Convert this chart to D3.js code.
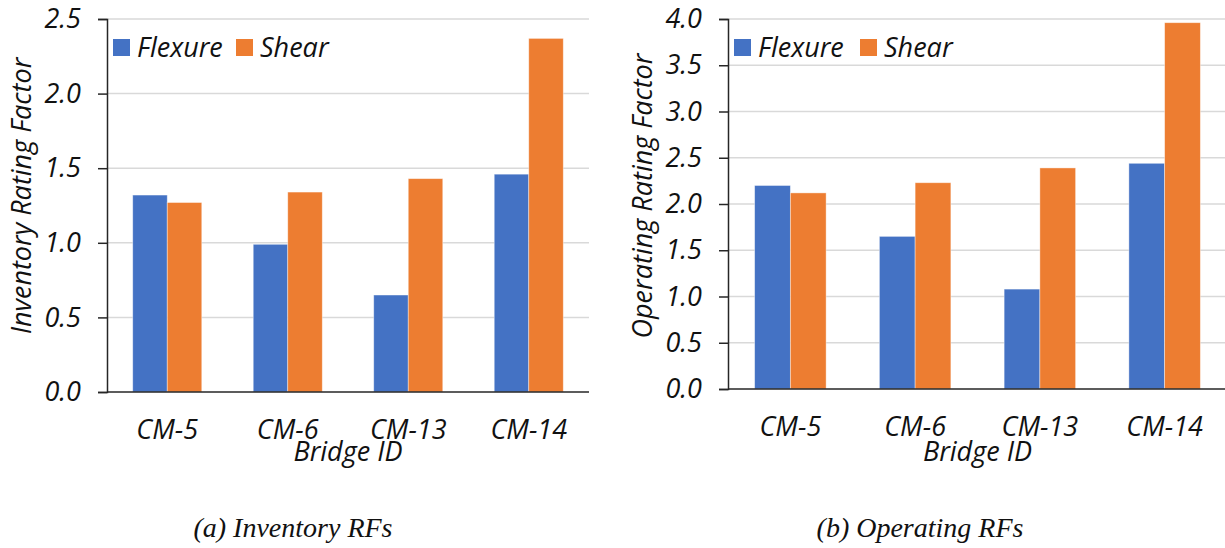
<!DOCTYPE html>
<html>
  <head>
    <meta charset="utf-8">
    <title>Inventory and Operating RFs</title>
    <script src="https://d3js.org/d3.v7.min.js"></script>
    <style>
      body { margin: 0; background: #fff; }
      text { font-family: "Open Sans", sans-serif; font-style: italic; fill: #111; }
      .caption { font-family: "Liberation Serif", "Times New Roman", serif; }
    </style>
  </head>
  <body>
    <div id="chart"></div>
    <script>
      // data
      var bridges = ["CM-5", "CM-6", "CM-13", "CM-14"];
      var series = ["Flexure", "Shear"];
      var colors = ["#4472C4", "#ED7D31"];
      var inventoryFlexure = [1.32, 0.99, 0.65, 1.46];
      var inventoryShear = [1.27, 1.34, 1.43, 2.37];
      var operatingFlexure = [2.20, 1.65, 1.08, 2.44];
      var operatingShear = [2.12, 2.23, 2.39, 3.96];
      var inventoryTicks = [0, 0.5, 1.0, 1.5, 2.0, 2.5];
      var operatingTicks = [0, 0.5, 1.0, 1.5, 2.0, 2.5, 3.0, 3.5, 4.0];

      var svg = d3.select("#chart")
        .append("svg")
        .attr("width", 1225)
        .attr("height", 548);

      function drawPanel(opt) {
        var g = svg.append("g");
        var x = d3.scaleBand()
          .domain(bridges)
          .range([opt.left, opt.right])
          .paddingInner(0.427)
          .paddingOuter(0.2135);
        var x1 = d3.scaleBand()
          .domain(series)
          .range([0, x.bandwidth()]);
        var y = d3.scaleLinear()
          .domain([0, opt.max])
          .range([opt.bottom, opt.top]);

        // gridlines
        g.selectAll(".grid")
          .data(opt.ticks.filter(function(d) { return d > 0; }))
          .enter().append("line")
          .attr("x1", opt.left).attr("x2", opt.right)
          .attr("y1", function(d) { return y(d); })
          .attr("y2", function(d) { return y(d); })
          .attr("stroke", "#d9d9d9")
          .attr("stroke-width", 1.5);

        // bars
        var rows = bridges.map(function(b, i) {
          return { id: b, values: [opt.flexure[i], opt.shear[i]] };
        });
        var grp = g.selectAll(".grp")
          .data(rows)
          .enter().append("g")
          .attr("transform", function(d) { return "translate(" + x(d.id) + ",0)"; });
        grp.selectAll("rect")
          .data(function(d) { return d.values.map(function(v, k) { return { s: series[k], v: v, k: k }; }); })
          .enter().append("rect")
          .attr("x", function(d) { return x1(d.s); })
          .attr("width", x1.bandwidth())
          .attr("y", function(d) { return y(d.v); })
          .attr("height", function(d) { return y(0) - y(d.v); })
          .attr("fill", function(d) { return colors[d.k]; })
          .attr("stroke", "#fff")
          .attr("stroke-opacity", 0.5)
          .attr("stroke-width", 0.8);

        // y axis
        var yAxis = d3.axisLeft(y)
          .tickValues(opt.ticks)
          .tickSize(9)
          .tickPadding(17)
          .tickFormat(d3.format(".1f"));
        var ya = g.append("g")
          .attr("transform", "translate(" + opt.left + ",0)")
          .call(yAxis);
        ya.select(".domain").attr("stroke", "#262626").attr("stroke-width", 1.5);
        ya.selectAll(".tick line").attr("stroke", "#262626").attr("stroke-width", 1.5);
        ya.selectAll(".tick text")
          .style("font-size", "27px")
          .style("font-family", "'Open Sans', sans-serif")
          .style("font-style", "italic")
          .attr("fill", "#111");

        // x axis line
        g.append("line")
          .attr("x1", opt.left).attr("x2", opt.right)
          .attr("y1", y(0)).attr("y2", y(0))
          .attr("stroke", "#262626")
          .attr("stroke-width", 1.5);

        // category labels
        g.selectAll(".cat")
          .data(bridges)
          .enter().append("text")
          .attr("x", function(d) { return x(d) + x.bandwidth() / 2; })
          .attr("y", y(0) + 47)
          .attr("text-anchor", "middle")
          .style("font-size", "27px")
          .text(function(d) { return d; });

        g.append("text")
          .attr("x", (opt.left + opt.right) / 2)
          .attr("y", 461)
          .attr("text-anchor", "middle")
          .style("font-size", "27px")
          .text("Bridge ID");

        g.append("text")
          .attr("transform", "translate(" + opt.titleX + ",196) rotate(-90)")
          .attr("text-anchor", "middle")
          .style("font-size", "27px")
          .text(opt.yTitle);

        // legend
        var lg = g.append("g").attr("transform", "translate(" + (opt.left + 6) + ",39)");
        var items = [{ name: "Flexure", dx: 0 }, { name: "Shear", dx: opt.legendGap }];
        items.forEach(function(it, k) {
          lg.append("rect")
            .attr("x", it.dx).attr("y", 0)
            .attr("width", 17).attr("height", 17)
            .attr("fill", colors[k]);
          lg.append("text")
            .attr("x", it.dx + 24).attr("y", 18)
            .style("font-size", "27px")
            .text(it.name);
        });

        svg.append("text")
          .attr("class", "caption")
          .attr("x", opt.captionX)
          .attr("y", 537)
          .attr("text-anchor", "middle")
          .style("font-size", "28px")
          .text(opt.caption);
      }

      drawPanel({
        left: 107, right: 589, top: 19, bottom: 392, max: 2.5,
        ticks: inventoryTicks, flexure: inventoryFlexure, shear: inventoryShear,
        yTitle: "Inventory Rating Factor", titleX: 31, legendGap: 123,
        caption: "(a) Inventory RFs", captionX: 293
      });
      drawPanel({
        left: 728, right: 1227, top: 19, bottom: 389, max: 4.0,
        ticks: operatingTicks, flexure: operatingFlexure, shear: operatingShear,
        yTitle: "Operating Rating Factor", titleX: 652, legendGap: 126,
        caption: "(b) Operating RFs", captionX: 920
      });
    </script>
  </body>
</html>
